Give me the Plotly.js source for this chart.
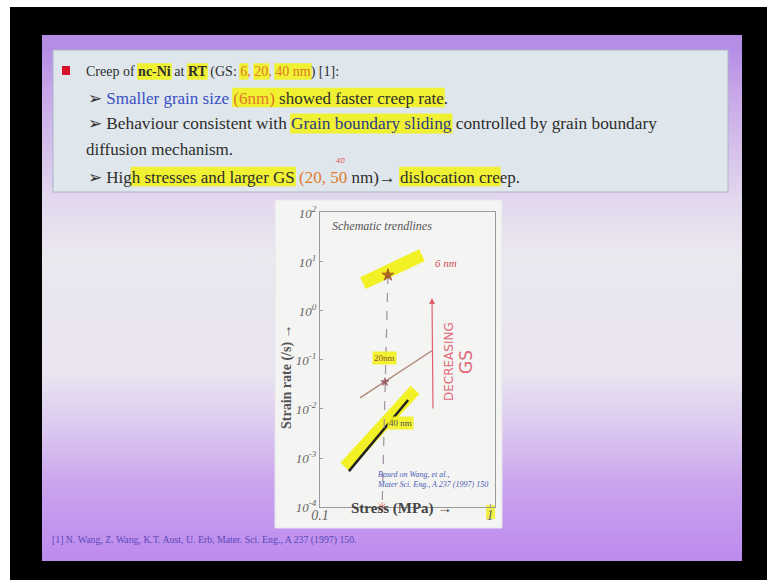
<!DOCTYPE html>
<html><head><meta charset="utf-8">
<script src="https://cdn.plot.ly/plotly-3.0.1.min.js"></script>
<style>
html,body{margin:0;padding:0;background:#fff;}
#wrap{position:relative;width:767px;height:580px;overflow:hidden;background:#fff;}
#black{position:absolute;left:10px;top:7px;right:0;bottom:0;background:#000;}
#slide{position:absolute;left:42px;top:35px;width:700px;height:526px;
 background:linear-gradient(to bottom,#b48ee6 0px,#b48ee6 14px,#c8a8e8 60px,#e3d8ee 165px,#ebe8f0 220px,#e9e4f0 340px,#d9c4ef 400px,#caa4ee 450px,#bd8aee 526px);}
#plot{position:absolute;left:0;top:0;width:767px;height:580px;}
</style></head>
<body><div id="wrap"><div id="black"></div><div id="slide"></div><div id="plot"></div></div>
<script>
// ---------- data ----------
const grainLabels = ['6 nm', '20nm', '40 nm'];
const xTickVals = [0.1, 1];
const xTickText = ['0.1', '1'];
const yTickVals = [1e-4, 1e-3, 1e-2, 1e-1, 1, 10, 100];
const yTickText = ['10<sup>-4</sup>','10<sup>-3</sup>','10<sup>-2</sup>','10<sup>-1</sup>','10<sup>0</sup>','10<sup>1</sup>','10<sup>2</sup>'];
const stress6 = [0.179, 0.398];   const rate6 = [3.7, 13.8];
const stress20 = [0.172, 0.462];  const rate20 = [0.0168, 0.16];
const stress40 = [0.148, 0.33];   const rate40 = [5.4e-4, 0.0153];
const stress40hl = [0.140, 0.362]; const rate40hl = [6.6e-4, 0.0245];
const markStress = [0.251, 0.241, 0.232]; const markRate = [5.4, 0.0356, 1e-4];

const W = 767, H = 580;
const X = p => p / W, Y = p => 1 - p / H;

// ---------- slide text ----------
const BASE = '#2e2e2e', ORANGE = '#e07a2a', BLUE = '#3a4fc4', DKBLUE = '#2b3a8a';
const textLines = [
  {x: 86, y: 72, fs: 14, segs: [['Creep of ',{}],['nc-Ni',{b:1,h:1}],[' at ',{}],['RT',{b:1,h:1}],[' (GS: ',{}],['6',{c:ORANGE,h:1}],[', ',{c:ORANGE}],['20',{c:ORANGE,h:1}],[', ',{c:ORANGE}],['40 nm',{c:ORANGE,h:1}],[') [1]:',{}]]},
  {x: 88, y: 98, fs: 17, segs: [['➢ ',{}],['Smaller grain size ',{c:BLUE}],['(6nm)',{c:ORANGE,h:1}],[' showed faster creep rate',{h:1}],['.',{}]]},
  {x: 88, y: 124, fs: 17.3, segs: [['➢ Behaviour consistent with ',{}],['Grain boundary sliding',{c:DKBLUE,h:1}],[' controlled by grain boundary',{}]]},
  {x: 86, y: 150, fs: 17, segs: [['diffusion mechanism.',{}]]},
  {x: 88, y: 177, fs: 17, segs: [['➢ Hig',{}],['h stresses and larger GS',{h:1}],[' (20, ',{c:ORANGE}],['50',{c:ORANGE,mark:1}],[' nm)→ ',{}],['dislocation cre',{h:1}],['ep.',{}]]}
];
const ctx = document.createElement('canvas').getContext('2d');
function tw(t, bold, fs){ ctx.font = (bold?'bold ':'') + fs + 'px "Liberation Serif"'; return ctx.measureText(t).width; }

const shapes = [
  {type:'rect', xref:'paper', yref:'paper', x0:X(53), x1:X(728), y0:Y(192), y1:Y(50), fillcolor:'#dfe7ec', line:{color:'#aab4c8', width:1}, layer:'below'},
  {type:'rect', xref:'paper', yref:'paper', x0:X(62), x1:X(70), y0:Y(75), y1:Y(66), fillcolor:'#d8102a', line:{width:0}, layer:'below'},
  {type:'rect', xref:'paper', yref:'paper', x0:X(275), x1:X(502), y0:Y(528), y1:Y(200), fillcolor:'#f4f4f2', line:{color:'#e6e4ea', width:1}, layer:'below'},
  {type:'rect', xref:'paper', yref:'paper', x0:X(486), x1:X(495), y0:Y(519), y1:Y(505), fillcolor:'rgba(240,240,40,0.85)', line:{width:0}, layer:'below'}
];
const annotations = [];
let markX = 350;
textLines.forEach(L => {
  let pos = 0, html = '';
  const hh = L.fs * 0.55;
  L.segs.forEach(([t, s]) => {
    const wd = tw(t, s.b, L.fs);
    if (s.h) shapes.push({type:'rect', xref:'paper', yref:'paper', x0:X(L.x+pos-1), x1:X(L.x+pos+wd+1), y0:Y(L.y+hh), y1:Y(L.y-hh-1), fillcolor:'rgba(242,242,30,0.9)', line:{width:0}, layer:'below'});
    if (s.mark) markX = L.x + pos + wd / 2;
    let piece = t;
    if (s.b) piece = '<b>' + piece + '</b>';
    piece = '<span style="color:' + (s.c || BASE) + '">' + piece + '</span>';
    html += piece; pos += wd;
  });
  annotations.push({xref:'paper', yref:'paper', x:X(L.x), y:Y(L.y), xanchor:'left', yanchor:'middle', text:html, showarrow:false, borderpad:0, borderwidth:0, font:{family:'Liberation Serif', size:L.fs, color:BASE}});
});
// handwritten "40" above 50
annotations.push({xref:'paper', yref:'paper', x:X(markX + 2), y:Y(166), yanchor:'bottom', text:'<i>40</i>', showarrow:false, borderpad:0, font:{family:'DejaVu Sans', size:7, color:'#e05060'}});

// ---------- chart annotations ----------
annotations.push(
  {xref:'paper', yref:'paper', x:X(330), y:Y(226), xanchor:'left', text:'<i>Schematic trendlines</i>', showarrow:false, font:{family:'Liberation Serif', size:12, color:'#555'}},
  {xref:'paper', yref:'paper', x:X(433), y:Y(263), xanchor:'left', text:'<i>' + grainLabels[0] + '</i>', showarrow:false, font:{family:'Liberation Serif', size:11, color:'#d05058'}},
  {xref:'paper', yref:'paper', x:X(384), y:Y(358), text:grainLabels[1], showarrow:false, bgcolor:'rgba(242,242,30,0.9)', borderpad:1, font:{family:'Liberation Serif', size:9, color:'#8a5030'}},
  {xref:'paper', yref:'paper', x:X(400), y:Y(430), text:grainLabels[2], showarrow:false, bgcolor:'rgba(242,242,30,0.9)', borderpad:1, font:{family:'Liberation Serif', size:9, color:'#555'}},
  {xref:'paper', yref:'paper', x:X(375), y:Y(491), xanchor:'left', text:'<i>Based on Wang, et al.,<br>Mater Sci. Eng., A 237 (1997) 150</i>', align:'left', showarrow:false, font:{family:'Liberation Serif', size:8, color:'#4a5ab8'}},
  {xref:'paper', yref:'paper', x:X(432), y:Y(298), ax:1, ay:112, text:'', showarrow:true, arrowhead:2, arrowsize:1, arrowwidth:1.2, arrowcolor:'#e06070'},
  {xref:'paper', yref:'paper', x:X(449), y:Y(362), text:'DECREASING', textangle:-90, showarrow:false, font:{family:'DejaVu Sans', size:12, color:'#e06878'}},
  {xref:'paper', yref:'paper', x:X(466), y:Y(362), text:'GS', textangle:-90, showarrow:false, font:{family:'DejaVu Sans', size:17, color:'#e06878'}},
  {xref:'paper', yref:'paper', x:X(401), y:Y(519), text:'<b>Stress (MPa) →</b>', showarrow:false, font:{family:'Liberation Serif', size:15, color:'#444'}},
  {xref:'paper', yref:'paper', x:X(287), y:Y(377), text:'<b>Strain rate (/s) →</b>', textangle:-90, showarrow:false, font:{family:'Liberation Serif', size:14, color:'#555'}},
  {xref:'paper', yref:'paper', x:X(50), y:Y(548), xanchor:'left', text:'[1] N. Wang, Z. Wang, K.T. Aust, U. Erb, Mater. Sci. Eng., A 237 (1997) 150.', showarrow:false, font:{family:'Liberation Serif', size:9.8, color:'#5a48b8'}}
);

// ---------- traces ----------
const traces = [
  {x:stress6, y:rate6, mode:'lines', line:{color:'rgba(240,240,20,0.92)', width:13}, hoverinfo:'skip'},
  {x:stress40hl, y:rate40hl, mode:'lines', line:{color:'rgba(240,240,20,0.92)', width:12}, hoverinfo:'skip'},
  {x:stress40, y:rate40, mode:'lines', line:{color:'#222', width:2.5}, hoverinfo:'skip'},
  {x:stress20, y:rate20, mode:'lines', line:{color:'#b08878', width:1.4}, hoverinfo:'skip'},
  {x:markStress, y:markRate, mode:'lines', line:{color:'#a090a0', width:1.2, dash:'dash'}, hoverinfo:'skip'},
  {x:markStress, y:markRate, mode:'markers', cliponaxis:false, marker:{symbol:['star','star','asterisk-open'], size:[9,6,8], color:['#8b3020','#8a3a50','#e04040'], line:{color:['#8b3020','#8a3a50','#e04040'], width:1}}, hoverinfo:'skip'}
];

const axisCommon = {showline:true, mirror:true, linecolor:'#9a9a9a', linewidth:1, ticks:'inside', ticklen:3, tickcolor:'#9a9a9a', showgrid:false, zeroline:false};
const layout = {
  width:W, height:H, margin:{l:0, r:0, t:0, b:0, pad:0},
  paper_bgcolor:'rgba(0,0,0,0)', plot_bgcolor:'rgba(0,0,0,0)', showlegend:false,
  xaxis:Object.assign({type:'log', domain:[X(320), X(495)], range:[-1, 0.0294], tickvals:xTickVals, ticktext:xTickText.map(t=>'<i>'+t+'</i>'), ticklabelstandoff:-5, tickfont:{family:'Liberation Serif', size:14, color:'#666'}}, axisCommon),
  yaxis:Object.assign({type:'log', domain:[Y(507), Y(212)], range:[-4, 2.02], tickvals:yTickVals, ticktext:yTickText.map(t=>'<i>'+t+'</i>'), tickfont:{family:'Liberation Serif', size:13, color:'#666'}}, axisCommon),
  shapes:shapes, annotations:annotations
};
Plotly.newPlot('plot', traces, layout, {staticPlot:true, displayModeBar:false});
</script></body></html>
